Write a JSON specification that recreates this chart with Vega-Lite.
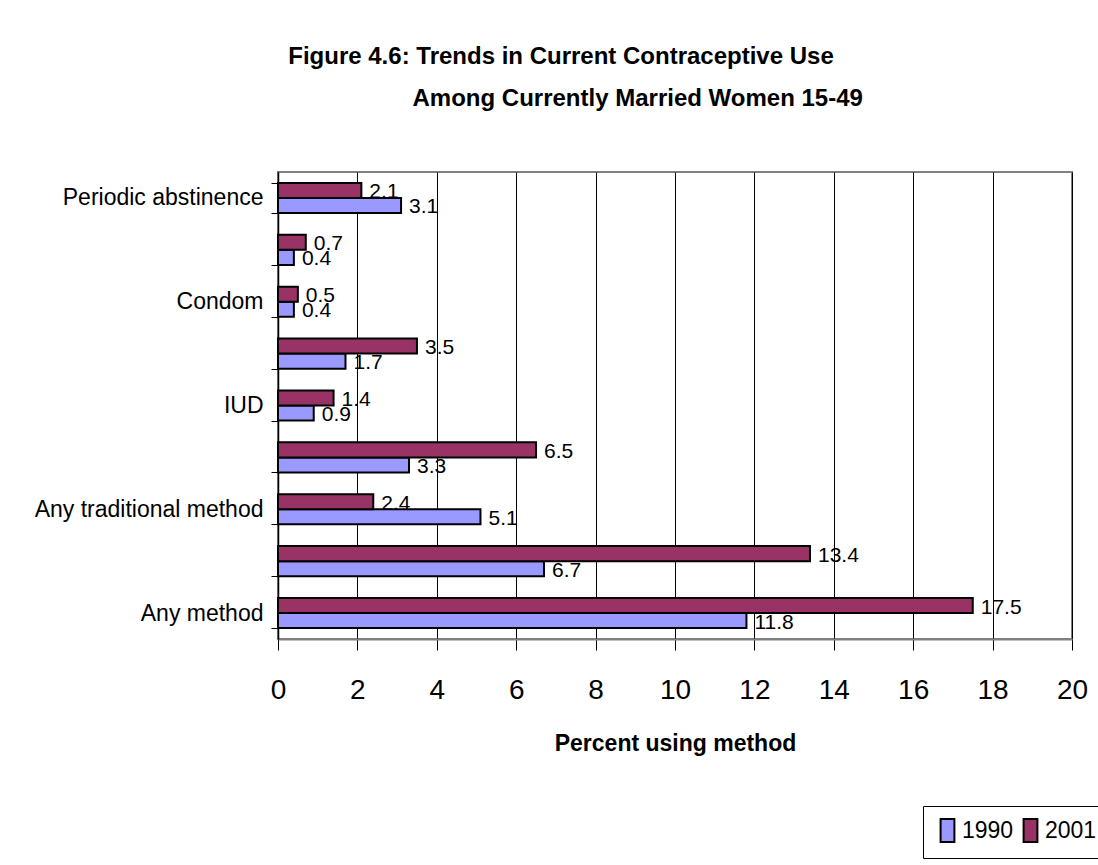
{
  "$schema": "https://vega.github.io/schema/vega-lite/v6.json",
  "width": 794,
  "height": 467,
  "autosize": {"type": "none"},
  "padding": {"left": 278, "top": 172, "right": 26, "bottom": 226},
  "background": "white",
  "title": {
    "text": ["Figure 4.6: Trends in Current Contraceptive Use", "\u200b\u00a0\u00a0\u00a0\u00a0\u00a0\u00a0\u00a0\u00a0\u00a0\u00a0\u00a0\u00a0\u00a0\u00a0\u00a0\u00a0\u00a0\u00a0\u00a0\u00a0\u00a0\u00a0\u00a0Among Currently Married Women 15-49"],
    "anchor": "middle",
    "frame": "group",
    "dx": -114,
    "offset": 50,
    "font": "Liberation Sans",
    "fontSize": 24,
    "fontWeight": "bold",
    "lineHeight": 42,
    "color": "black"
  },
  "data": {
    "values": [
      {"method": "Any method", "year": "1990", "pct": 11.8},
      {"method": "Any method", "year": "2001", "pct": 17.5},
      {"method": "Any modern method", "year": "1990", "pct": 6.7},
      {"method": "Any modern method", "year": "2001", "pct": 13.4},
      {"method": "Any traditional method", "year": "1990", "pct": 5.1},
      {"method": "Any traditional method", "year": "2001", "pct": 2.4},
      {"method": "Pill", "year": "1990", "pct": 3.3},
      {"method": "Pill", "year": "2001", "pct": 6.5},
      {"method": "IUD", "year": "1990", "pct": 0.9},
      {"method": "IUD", "year": "2001", "pct": 1.4},
      {"method": "Injectables", "year": "1990", "pct": 1.7},
      {"method": "Injectables", "year": "2001", "pct": 3.5},
      {"method": "Condom", "year": "1990", "pct": 0.4},
      {"method": "Condom", "year": "2001", "pct": 0.5},
      {"method": "Female sterilization", "year": "1990", "pct": 0.4},
      {"method": "Female sterilization", "year": "2001", "pct": 0.7},
      {"method": "Periodic abstinence", "year": "1990", "pct": 3.1},
      {"method": "Periodic abstinence", "year": "2001", "pct": 2.1}
    ]
  },
  "encoding": {
    "y": {
      "field": "method",
      "type": "nominal",
      "sort": ["Periodic abstinence", "Female sterilization", "Condom", "Injectables", "IUD", "Pill", "Any traditional method", "Any modern method", "Any method"],
      "scale": {"paddingInner": 0.42, "paddingOuter": 0.21},
      "axis": {
        "title": null,
        "labelExpr": "indexof(['Any modern method','Pill','Injectables','Female sterilization'], datum.value) >= 0 ? '' : datum.label",
        "labelFont": "Liberation Sans",
        "labelFontSize": 23,
        "labelColor": "black",
        "labelPadding": 8,
        "labelLimit": 400,
        "tickBand": "extent",
        "tickColor": "black",
        "tickSize": 7,
        "tickWidth": 1,
        "domainColor": "black",
        "domainWidth": 1.5,
        "grid": false
      }
    },
    "x": {
      "field": "pct",
      "type": "quantitative",
      "scale": {"domain": [0, 20], "nice": false},
      "axis": {
        "values": [0, 2, 4, 6, 8, 10, 12, 14, 16, 18, 20],
        "title": "Percent using method",
        "titleFont": "Liberation Sans",
        "titleFontSize": 23,
        "titleFontWeight": "bold",
        "titleColor": "black",
        "titlePadding": 28,
        "labelFont": "Liberation Sans",
        "labelFontSize": 28,
        "labelColor": "black",
        "labelPadding": 26,
        "labelFlush": false,
        "tickColor": "black",
        "tickSize": 11,
        "tickWidth": 1,
        "domainColor": "#808080",
        "domainWidth": 2,
        "grid": true,
        "gridColor": "black",
        "gridWidth": 1,
        "gridOpacity": 1
      }
    },
    "yOffset": {"field": "year", "type": "nominal", "scale": {"domain": ["2001", "1990"], "paddingInner": 0, "paddingOuter": 0}}
  },
  "layer": [
    {
      "mark": {"type": "bar", "stroke": "black", "strokeWidth": 2},
      "encoding": {
        "fill": {
          "field": "year",
          "type": "nominal",
          "scale": {"domain": ["1990", "2001"], "range": ["#9999FF", "#993366"]},
          "legend": {
            "title": null,
            "orient": "none",
            "legendX": 645,
            "legendY": 634,
            "direction": "horizontal",
            "strokeColor": "black",
            "fillColor": "white",
            "padding": 12,
            "labelFont": "Liberation Sans",
            "labelFontSize": 23,
            "labelColor": "black",
            "labelOffset": 2,
            "columnPadding": 4,
            "symbolType": "M-0.6,-1H0.6V1H-0.6Z",
            "symbolSize": 529,
            "symbolStrokeColor": "black",
            "symbolStrokeWidth": 2,
            "symbolOpacity": 1
          }
        }
      }
    },
    {
      "mark": {
        "type": "text",
        "align": "left",
        "baseline": "middle",
        "dx": 8,
        "dy": 2,
        "font": "Liberation Sans",
        "fontSize": 21,
        "color": "black"
      },
      "encoding": {
        "text": {"field": "pct", "type": "quantitative", "format": ".1f"}
      }
    }
  ],
  "config": {
    "view": {"stroke": "#808080", "strokeWidth": 2}
  }
}
